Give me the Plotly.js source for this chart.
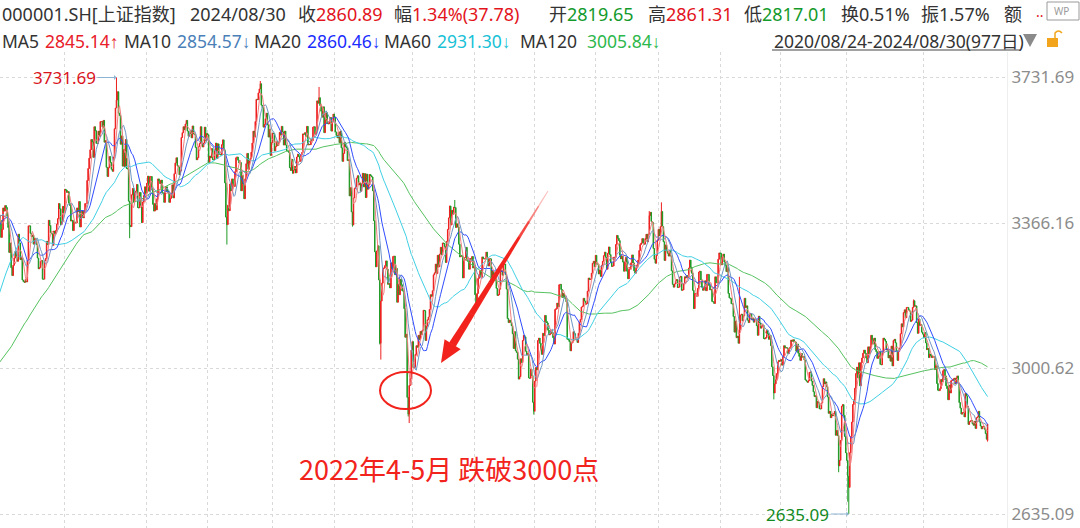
<!DOCTYPE html>
<html><head><meta charset="utf-8">
<script src="https://cdn.plot.ly/plotly-3.0.1.min.js"></script>
<style>html,body{margin:0;padding:0;background:#fff;overflow:hidden}#chart{width:1080px;height:528px}</style>
</head><body><div id="chart"></div>
<script>
// ---- data (Shanghai Composite daily closes) ----
// 119 sessions before the window (Mar-Aug 2020), only used for the moving averages
const preCloses = [
2971,2992,3011,3072,3034,2943,2996,2969,2923,2887,2789,2779,2728,2702,2745,2660,2722,2781,2722,2772,2747,2750,
2735,2780,2764,2821,2815,2825,2797,2783,2828,2811,2819,2852,2838,2827,2843,2815,2798,2809,2783,2810,2860,
2878,2871,2895,2894,2875,2898,2868,2883,2875,2898,2867,2898,2883,2818,2841,2818,2846,2852,
2915,2921,2923,2920,2937,2956,2943,2921,2920,2890,2931,2939,2935,2949,2967,2965,2964,2979,2961,2985,
3025,3090,3153,3332,3345,3346,3450,3383,3443,3414,3361,3210,3214,3314,3321,3325,3197,3205,3227,3228,3294,3286,3310,
3367,3371,3377,3386,3354,3379,3340,3320,3361,3360,3438,3451,3408,3363,3386];

// 2020/08/24 - 2024/08/30 (977 sessions)
const closes = [
3385,3373,3330,3350,3404,3396,
3410,3405,3384,3355,3292,3316,3254,3234,3260,3278,3295,3283,3270,3338,3316,3274,3279,3223,3219,3217,3224,3218,
3272,3359,3359,3340,3332,3336,3313,3328,3325,3312,3278,3251,3254,3270,3272,3225,
3225,3271,3277,3320,3312,3373,3360,3342,3339,3310,3346,3339,3347,3363,3377,3415,3402,3362,3369,3408,3392,
3451,3449,3443,3445,3416,3410,3371,3373,3347,3369,3367,3366,3404,3394,3420,3356,3382,3397,3379,3396,3415,3415,3473,
3503,3529,3550,3576,3570,3531,3608,3598,3566,3566,3597,3583,3621,3621,3607,3624,3569,3573,3506,3483,
3505,3533,3518,3501,3496,3532,3603,3655,3675,3696,3642,3636,3564,3585,3509,
3551,3508,3576,3503,3502,3421,3360,3357,3437,3453,3419,3443,3446,3463,3405,3404,3443,3411,3367,3419,3435,3457,3441,
3466,3484,3446,3482,3483,3450,3413,3396,3416,3399,3427,3477,3472,3465,3474,3442,3441,3418,3446,3457,3447,
3442,3418,3428,3441,3462,3429,3490,3517,3530,3510,3507,3487,3497,3581,3593,3608,3600,3615,
3624,3597,3584,3591,3599,3580,3610,3590,3589,3556,3525,3530,3558,3566,3608,3567,3557,3567,3607,3573,3591,
3588,3518,3534,3530,3553,3525,3525,3548,3567,3528,3565,3539,3539,3537,3563,3575,3550,3467,3381,3362,3411,3397,
3464,3447,3477,3466,3458,3495,3530,3532,3524,3517,3518,3447,3485,3465,3427,3477,3515,3541,3501,3522,3528,3544,
3567,3597,3582,3621,3677,3676,3693,3703,3716,3662,3656,3607,3614,3628,3642,3613,3582,3602,3536,3568,
3592,3591,3547,3558,3572,3561,3568,3594,3587,3609,3595,3562,3597,3562,3547,3547,
3544,3505,3498,3526,3491,3499,3508,3492,3532,3539,3533,3521,3537,3543,3590,3589,3593,3584,3609,3562,3564,3563,
3576,3573,3607,3608,3589,3595,3673,3667,3681,3661,3647,3632,3658,3593,3625,3643,3616,3615,3619,3631,3597,3620,3640,
3632,3595,3586,3580,3594,3568,3597,3555,3521,3541,3569,3558,3555,3523,3525,3434,3455,3394,3361,
3429,3453,3457,3479,3485,3462,3466,3446,3465,3491,3457,3490,3430,3489,3451,3462,
3488,3485,3482,3447,3372,3294,3256,3296,3309,3223,3064,3170,3215,3251,3253,3259,3271,3250,3212,3214,3203,3266,3252,
3282,3283,3236,3252,3167,3213,3186,3225,3211,3196,3195,3151,3079,3087,2928,2886,2958,2975,3047,
3068,3002,3004,3036,3058,3054,3084,3073,3094,3086,3097,3147,3146,3071,3107,3123,3130,3149,3186,
3182,3196,3236,3241,3263,3239,3285,3256,3288,3305,3286,3316,3315,3307,3267,3320,3350,3379,3409,3361,3398,
3388,3406,3405,3355,3364,3356,3313,3281,3285,3282,3228,3278,3279,3305,3272,3270,3250,3277,3275,3282,3253,
3259,3186,3164,3189,3227,3236,3247,3230,3281,3276,3276,3278,3293,3277,3258,3277,3276,3215,3246,3236,3240,3227,3202,
3184,3186,3200,3244,3246,3235,3262,3263,3237,3200,3126,3116,3122,3117,3108,3088,3051,3093,3045,3041,3024,
2974,2980,3025,3016,3071,3084,3080,3044,3035,3038,2977,2976,2999,2983,2916,2893,
2969,3003,2997,3071,3077,3064,3048,3036,3089,3083,3134,3119,3115,3097,3085,3088,3096,3089,3078,3062,3149,3151,
3165,3156,3211,3212,3199,3179,3189,3179,3176,3168,3074,3073,3068,3045,3065,3067,3093,3088,3073,3074,3066,3089,
3117,3124,3155,3157,3177,3170,3162,3164,3195,3228,3224,3225,3240,3265,3270,3256,
3285,3263,3263,3238,3248,3232,3260,3270,3284,3293,3280,3250,3290,3306,3287,3267,3257,3258,3280,3280,
3312,3335,3328,3322,3285,3276,3283,3268,3245,3268,3280,3245,3226,3250,3255,3266,3286,3266,3246,3240,3253,3261,3273,
3297,3312,3316,3327,3315,3313,3327,3338,3319,3338,3385,3393,3370,3367,3302,3275,3265,3285,3323,
3350,3334,3357,3395,3357,3319,3272,3311,3296,3290,3283,3297,3283,3246,3212,3205,3213,3221,3224,3204,
3205,3230,3232,3197,3198,3213,3231,3228,3234,3229,3253,3273,3255,3240,3197,3151,3189,3189,3182,3202,
3243,3245,3223,3205,3197,3204,3221,3196,3237,3237,3209,3198,3199,3169,3168,3164,3231,3216,3216,3275,3291,
3290,3261,3280,3288,3268,3260,3244,3254,3189,3178,3176,3163,3163,3131,3092,3120,3078,3082,3064,3098,3135,3137,3120,
3133,3177,3154,3158,3122,3116,3137,3138,3123,3126,3117,3125,3124,3108,3084,3132,3115,3102,3107,3110,
3076,3075,3078,3096,3088,3074,3084,3058,3005,2983,2939,2962,2974,2988,3017,3021,3019,
3023,3009,3030,3058,3052,3053,3052,3038,3050,3054,3072,3069,3073,3068,3067,3044,3062,3039,3031,3021,3038,3029,
3031,3022,2972,2969,2966,2970,2991,2992,2969,2958,2942,2930,2932,2902,2918,2914,2899,2899,2914,2955,2975,
2962,2967,2955,2929,2888,2893,2877,2886,2882,2887,2893,2833,2845,2832,2756,2770,2820,2906,2910,2883,2830,2789,
2770,2730,2702,2789,2830,2866,2910,2922,2951,2988,3004,2977,3015,2957,3015,
3027,3039,3047,3039,3027,3015,3055,3038,3055,3084,3073,3062,3077,3048,3043,3026,3031,3043,3011,3010,3041,
3077,3074,3069,3047,3048,3027,3034,3019,3057,3007,3071,3074,3065,3045,3021,3044,3052,3088,3113,3105,
3141,3148,3128,3154,3154,3148,3145,3119,3122,3154,3171,3157,3158,3116,3089,3125,3109,3111,3092,3087,
3078,3091,3065,3048,3051,3028,3037,3033,3028,3031,3030,2998,3008,2963,2946,2945,2950,2973,2967,
2995,2998,2982,2957,2950,2922,2959,2939,2970,2971,2974,2976,2962,2977,2982,2964,2915,2901,2886,2890,2891,2879,2938,
2932,2905,2860,2867,2869,2870,2862,2858,2868,2850,2877,2879,2893,2866,2856,2849,2855,2855,2848,2837,2823,2860.89];

// notable intraday extremes [session index, price]
const wickHighs = [[116,3731.69],[258,3723],[316,3708],[450,3424],[642,3396],[654,3418],[731,3231],[903,3174]];
const wickLows  = [[129,3328],[225,3312],[349,3357],[376,3061],[377,3023],[404,2880],[405,2863.65],[528,2885],
                   [765,2923],[829,2740],[838,2666],[839,2635.09]];
// last session (from header)
const lastOpen = 2819.65, lastHigh = 2861.31, lastLow = 2817.01;

const gridIdx = [65,146,206,270,331,408,469,529,589,651,712,772,837,913];
const yTicks = [2635.09, 3000.62, 3366.16, 3731.69];
const maPeriods = [120, 60, 20, 10, 5];
const maColors  = ['#55c25f', '#3fd0e4', '#2f4cff', '#6f96c4', '#f07f7f'];

// ---- derived ----
const N = closes.length;
const xs = closes.map((_, i) => i);
const allC = preCloses.concat(closes);
const opens = closes.map((c, i) => i === 0 ? preCloses[preCloses.length - 1] : closes[i - 1]);
opens[N - 1] = lastOpen;
const highs = closes.map((c, i) => Math.max(c, opens[i]));
const lows = closes.map((c, i) => Math.min(c, opens[i]));
highs[N - 1] = lastHigh; lows[N - 1] = lastLow;
wickHighs.forEach(([i, v]) => { highs[i] = Math.max(highs[i], v); });
wickLows.forEach(([i, v]) => { lows[i] = Math.min(lows[i], v); });

function movingAvg(n) {
  const out = [];
  for (let i = 0; i < N; i++) {
    const end = i + preCloses.length, start = end - n + 1;
    if (start < 0) { out.push(null); continue; }
    let s = 0; for (let k = start; k <= end; k++) s += allC[k];
    out.push(s / n);
  }
  return out;
}

const UP = '#ee1f1f', DOWN = '#1f9a25';
const traces = [{
  type: 'candlestick', x: xs, open: opens, high: highs, low: lows, close: closes,
  increasing: { line: { color: UP, width: 1 }, fillcolor: UP },
  decreasing: { line: { color: DOWN, width: 1 }, fillcolor: DOWN },
  whiskerwidth: 0, hoverinfo: 'skip', showlegend: false
}];
maPeriods.forEach((p, k) => traces.push({
  type: 'scatter', mode: 'lines', x: xs, y: movingAvg(p),
  line: { color: maColors[k], width: 1 }, hoverinfo: 'skip', showlegend: false
}));

// ---- geometry helpers (pixel -> paper) ----
const PW = 1007, PT = 52, PH = 476;
const fx = px => px / PW, fy = py => (PT + PH - py) / PH;

const shapes = [];
// red ellipse
shapes.push({ type: 'circle', xref: 'paper', yref: 'paper', x0: fx(380), x1: fx(431), y0: fy(409), y1: fy(372),
  line: { color: '#f2231c', width: 2 } });
// red arrow with fading tail
(function () {
  const T = [548, 191], P = [441, 363];
  const dx = P[0] - T[0], dy = P[1] - T[1], L = Math.hypot(dx, dy);
  const u = [dx / L, dy / L], n = [u[1], -u[0]];
  const headLen = 22, headW = 9.5;
  const B = [P[0] - u[0] * headLen, P[1] - u[1] * headLen];
  const segs = 10;
  const pt = (t, side) => {
    const cx = T[0] + (B[0] - T[0]) * t, cy = T[1] + (B[1] - T[1]) * t;
    const w = 0.4 + 3.4 * t;
    return [cx + n[0] * w * side, cy + n[1] * w * side];
  };
  const P2 = p => fx(p[0]).toFixed(5) + ',' + fy(p[1]).toFixed(5);
  for (let k = 0; k < segs; k++) {
    const t0 = k / segs, t1 = (k + 1) / segs + 0.002;
    const a = pt(t0, 1), b = pt(t1, 1), c = pt(t1, -1), d = pt(t0, -1);
    const op = Math.min(1, 0.18 + ((k + 0.5) / segs) * 2.6);
    shapes.push({ type: 'path', xref: 'paper', yref: 'paper',
      path: 'M' + P2(a) + 'L' + P2(b) + 'L' + P2(c) + 'L' + P2(d) + 'Z',
      fillcolor: '#f2231c', opacity: op, line: { width: 0 } });
  }
  const h1 = [B[0] + n[0] * headW, B[1] + n[1] * headW], h2 = [B[0] - n[0] * headW, B[1] - n[1] * headW];
  shapes.push({ type: 'path', xref: 'paper', yref: 'paper',
    path: 'M' + P2(h1) + 'L' + P2(P) + 'L' + P2(h2) + 'Z', fillcolor: '#f2231c', line: { width: 0 } });
})();
// underline of the date range
shapes.push({ type: 'line', xref: 'paper', yref: 'paper', x0: fx(772), x1: fx(1020), y0: fy(50), y1: fy(50),
  line: { color: '#444', width: 1 } });
// ▼ marker
shapes.push({ type: 'path', xref: 'paper', yref: 'paper',
  path: `M${fx(1023)},${fy(34)}L${fx(1037)},${fy(34)}L${fx(1030)},${fy(47)}Z`, fillcolor: '#8a8a8a', line: { width: 0 } });
// lock icon
shapes.push({ type: 'rect', xref: 'paper', yref: 'paper', x0: fx(1047), x1: fx(1058), y0: fy(47), y1: fy(38),
  fillcolor: '#f2a51c', line: { width: 0 } });
shapes.push({ type: 'path', xref: 'paper', yref: 'paper',
  path: `M${fx(1055)},${fy(38)}L${fx(1055)},${fy(33)}Q${fx(1058.5)},${fy(29)} ${fx(1062)},${fy(33)}`,
  line: { color: '#f2a51c', width: 1.5 } });
// monitor icon top right
shapes.push({ type: 'rect', xref: 'paper', yref: 'paper', x0: fx(1047), x1: fx(1079), y0: fy(20), y1: fy(2),
  line: { color: '#9a9a9a', width: 1 } });

// ---- text ----
const RED = '#e3141c', GRN = '#139a2b', DARK = '#333333';
const FONT = "'Noto Sans', 'Noto Sans CJK SC', sans-serif";
const CJK = "'Noto Sans CJK SC', sans-serif";
const ann = [];
const txt = (px, py, text, color, size, extra) => ann.push(Object.assign({
  xref: 'paper', yref: 'paper', x: fx(px), y: fy(py), xanchor: 'left', yanchor: 'middle',
  text, showarrow: false, font: { family: FONT, size: size || 18, color: color || DARK }
}, extra || {}));
const sp = (c, t) => `<span style="color:${c}">${t}</span>`;
const arrowSpan = a => `<span style="font-family:'Liberation Sans'">${a}</span>`;

const headerDate = '2024/08/30';
const headerClose = '2860.89', headerChg = '1.34%(37.78)', headerOpen = '2819.65',
      headerHigh = '2861.31', headerLow = '2817.01', headerTurn = '0.51%', headerAmp = '1.57%';
txt(0, 14, '000001.SH[上证指数]');
txt(188, 14, headerDate);
txt(296, 14, '收' + sp(RED, headerClose));
txt(392, 14, '幅' + sp(RED, headerChg));
txt(547, 14, '开' + sp(GRN, headerOpen));
txt(646, 14, '高' + sp(RED, headerHigh));
txt(742, 14, '低' + sp(GRN, headerLow));
txt(839, 14, '换' + headerTurn);
txt(919, 14, '振' + headerAmp);
txt(1002, 14, '额');
txt(1034, 11, '..', '#e3141c', 14);
txt(1052, 11, 'WP', '#9a9a9a', 10);

const maLabels = ['MA5', 'MA10', 'MA20', 'MA60', 'MA120'];
const maValues = ['2845.14', '2854.57', '2860.46', '2931.30', '3005.84'];
const maArrows = ['↑', '↓', '↓', '↓', '↓'];
const maTextColors = ['#e8202a', '#4a7fb8', '#1a2cff', '#17c1d6', '#2db84d'];
const maLabelX = [0, 122, 252, 382, 518];
const maValueX = [43, 175, 305, 435, 585];
maLabels.forEach((l, k) => {
  txt(maLabelX[k], 41, l, DARK, 17.5);
  txt(maValueX[k], 41, maValues[k] + arrowSpan(maArrows[k]), maTextColors[k], 17.5);
});
txt(772, 41, '2020/08/24-2024/08/30(977日)', DARK, 17.5);

// extremes labels
ann.push({ x: 116, y: 3731.69, xref: 'x', yref: 'y', text: '3731.69', showarrow: true, ax: -52, ay: 0,
  arrowcolor: '#8db3d3', arrowwidth: 1, arrowhead: 1, arrowsize: 0.8, standoff: 0,
  font: { family: FONT, size: 17, color: '#d9141c' } });
ann.push({ x: 839, y: 2635.09, xref: 'x', yref: 'y', text: '2635.09', showarrow: true, ax: -51, ay: 0,
  arrowcolor: '#8db3d3', arrowwidth: 1, arrowhead: 1, arrowsize: 0.8, standoff: 0,
  font: { family: FONT, size: 17, color: '#138a1f' } });

// big red caption
ann.push({ xref: 'paper', yref: 'paper', x: fx(449), y: fy(468), xanchor: 'center', yanchor: 'middle',
  text: '2022年4-5月 跌破3000点', showarrow: false, font: { family: CJK, size: 27, color: '#f2231c' } });

const layout = {
  width: 1080, height: 528, margin: { l: 0, r: 73, t: 52, b: 0 },
  paper_bgcolor: '#ffffff', plot_bgcolor: '#ffffff',
  font: { family: FONT },
  showlegend: false,
  xaxis: {
    range: [1.0, 995.2], rangeslider: { visible: false }, showticklabels: false, ticks: '',
    tickmode: 'array', tickvals: gridIdx, showgrid: true, gridcolor: '#d9d9d9', griddash: 'dot', gridwidth: 1,
    zeroline: false, showline: false, fixedrange: true
  },
  yaxis: {
    side: 'right', range: [2599.92, 3795.75], tickmode: 'array', tickvals: yTicks,
    ticktext: yTicks.map(v => v.toFixed(2)), ticks: '', showgrid: true, gridcolor: '#d9d9d9', griddash: 'dot',
    zeroline: false, showline: true, linecolor: '#eeeeee', linewidth: 1,
    tickfont: { family: FONT, size: 17, color: '#8c8c8c' }, fixedrange: true
  },
  shapes, annotations: ann
};

Plotly.newPlot('chart', traces, layout, { displayModeBar: false, staticPlot: true });
</script>
</body></html>
